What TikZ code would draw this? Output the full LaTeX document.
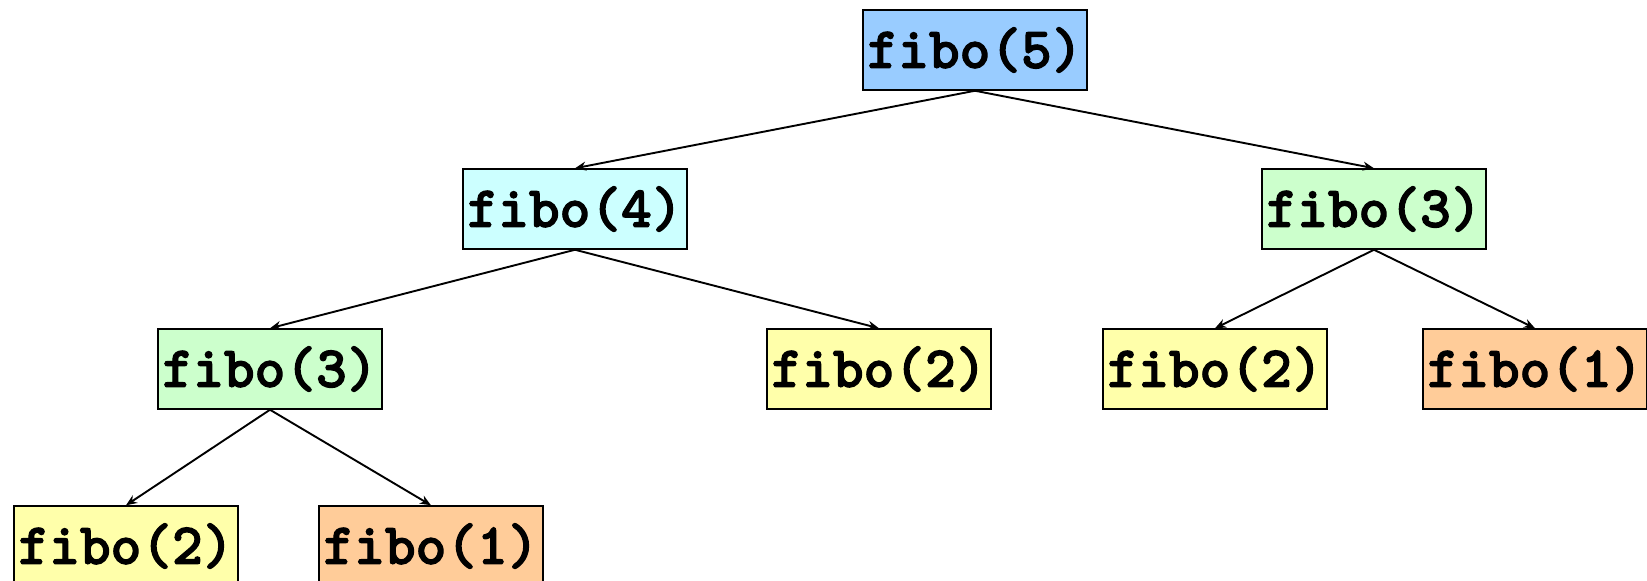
\documentclass[tikz,border=0pt]{standalone}
\usepackage{fontspec}
\newfontfamily\callfont{lmmonolt10-bold}[Extension=.otf, FakeBold=2]
\usetikzlibrary{arrows.meta}
\definecolor{callfive}{HTML}{99CCFF}
\definecolor{callfour}{HTML}{CCFFFF}
\definecolor{callthree}{HTML}{CCFFCC}
\definecolor{calltwo}{HTML}{FFFFAA}
\definecolor{callone}{HTML}{FFCC99}
\tikzset{
  call/.style={draw=black, line width=1.5pt, minimum width=224pt, minimum height=80pt,
    inner sep=0pt, font=\fontsize{58.5pt}{59pt}\selectfont\callfont},
  edge/.style={line width=1.9pt, -{Stealth[length=11pt,width=9pt]}}
}
\begin{document}
\begin{tikzpicture}[x=1pt,y=-1pt]
  \clip (0,0) rectangle (1647,581);
  \fill[white] (0,0) rectangle (1647,581);
  % call tree of fibo(5)
  \node[call, fill=callfive]  (f5)  at (975,50)   {fibo(5)};
  \node[call, fill=callfour]  (f4)  at (575,209)  {fibo(4)};
  \node[call, fill=callthree] (f3r) at (1374,209) {fibo(3)};
  \node[call, fill=callthree] (f3l) at (270,369)  {fibo(3)};
  \node[call, fill=calltwo]   (f2m) at (879,369)  {fibo(2)};
  \node[call, fill=calltwo]   (f2r) at (1215,369) {fibo(2)};
  \node[call, fill=callone]   (f1r) at (1535,369) {fibo(1)};
  \node[call, fill=calltwo]   (f2b) at (126,546)  {fibo(2)};
  \node[call, fill=callone]   (f1b) at (431,546)  {fibo(1)};
  % recursive calls
  \draw[edge] (f5.south)  -- (f4.north);
  \draw[edge] (f5.south)  -- (f3r.north);
  \draw[edge] (f4.south)  -- (f3l.north);
  \draw[edge] (f4.south)  -- (f2m.north);
  \draw[edge] (f3r.south) -- (f2r.north);
  \draw[edge] (f3r.south) -- (f1r.north);
  \draw[edge] (f3l.south) -- (f2b.north);
  \draw[edge] (f3l.south) -- (f1b.north);
\end{tikzpicture}
\end{document}
